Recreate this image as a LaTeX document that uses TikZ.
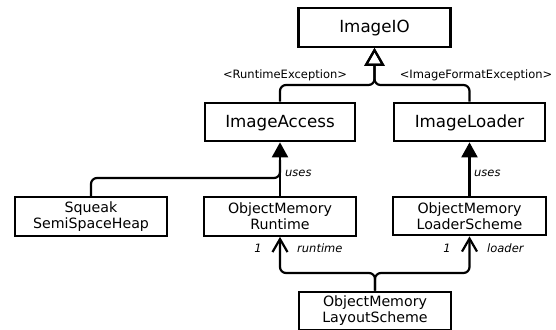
\documentclass[tikz,border=0pt]{standalone}
\usepackage{fontspec}
\setmainfont{DejaVu Sans}
\usetikzlibrary{arrows.meta}

\begin{document}
\begin{tikzpicture}[x=1pt, y=-1pt,
  cls/.style={draw, line width=2.2pt, minimum width=152pt, minimum height=38.5pt,
    inner sep=0pt, align=center, fill=white},
  big/.style={cls, font=\fontsize{16.7}{20}\selectfont, text height=12pt, text depth=2pt},
  two/.style={cls, font=\fontsize{14.2}{16}\selectfont},
  conn/.style={line width=2.2pt, rounded corners=6pt},
  gen/.style={conn, -{Triangle[open, length=18pt, width=20pt]}},
  uses/.style={conn, -{Triangle[length=15pt, width=16pt]}},
  assoc/.style={conn, -{Straight Barb[length=13pt, width=15pt]}},
  lbl/.style={font=\fontsize{11.5}{14}\selectfont, inner sep=0pt, anchor=base},
  ilbl/.style={lbl, font=\fontsize{11.5}{14}\selectfont\itshape, anchor=base west}
]
\clip (0,0) rectangle (556,329);

% classes
\node[big] (io) at (374.5,27.5) {ImageIO};
\node[big, minimum width=150pt] (ia) at (280,122) {ImageAccess};
\node[big, minimum width=151pt] (il) at (469.5,122) {ImageLoader};
\node[two] (sq) at (91,216.5) {Squeak\\SemiSpaceHeap};
\node[two] (rt) at (280,216.5) {ObjectMemory\\Runtime};
\node[two, minimum width=153pt] (ld) at (469.5,216) {ObjectMemory\\LoaderScheme};
\node[two] (ls) at (375,311) {ObjectMemory\\LayoutScheme};

% junction points
\coordinate (jt) at (374.5,85);
\coordinate (jm) at (280,178);
\coordinate (jb) at (375,273);

% generalisation to ImageIO
\draw[gen] (ia.north) |- (jt) -- (io.south);
\draw[gen] (il.north) |- (jt) -- (io.south);

% uses dependencies
\draw[uses] (rt.north) -- (ia.south);
\draw[conn] (sq.north) |- (jm) -- ++(0,-18);
\draw[uses] (ld.north) -- (il.south);

% associations from the layout scheme
\draw[assoc] (ls.north) -- (jb) -| (rt.south);
\draw[assoc] (ls.north) -- (jb) -| (ld.south);

% labels
\node[lbl] (exl) at (285,78.3) {<RuntimeException>};
\node[lbl] (exr) at (476,78.3) {<ImageFormatException>};
\node[ilbl] (u1) at (285,176.5) {uses};
\node[ilbl] (u2) at (474,176.7) {uses};
\node[lbl, font=\fontsize{11.5}{14}\selectfont\itshape] (m1) at (258,252) {1};
\node[ilbl] (r1) at (297,252) {runtime};
\node[lbl, font=\fontsize{11.5}{14}\selectfont\itshape] (m2) at (447,252) {1};
\node[ilbl] (r2) at (487,252) {loader};
\end{tikzpicture}
\end{document}
